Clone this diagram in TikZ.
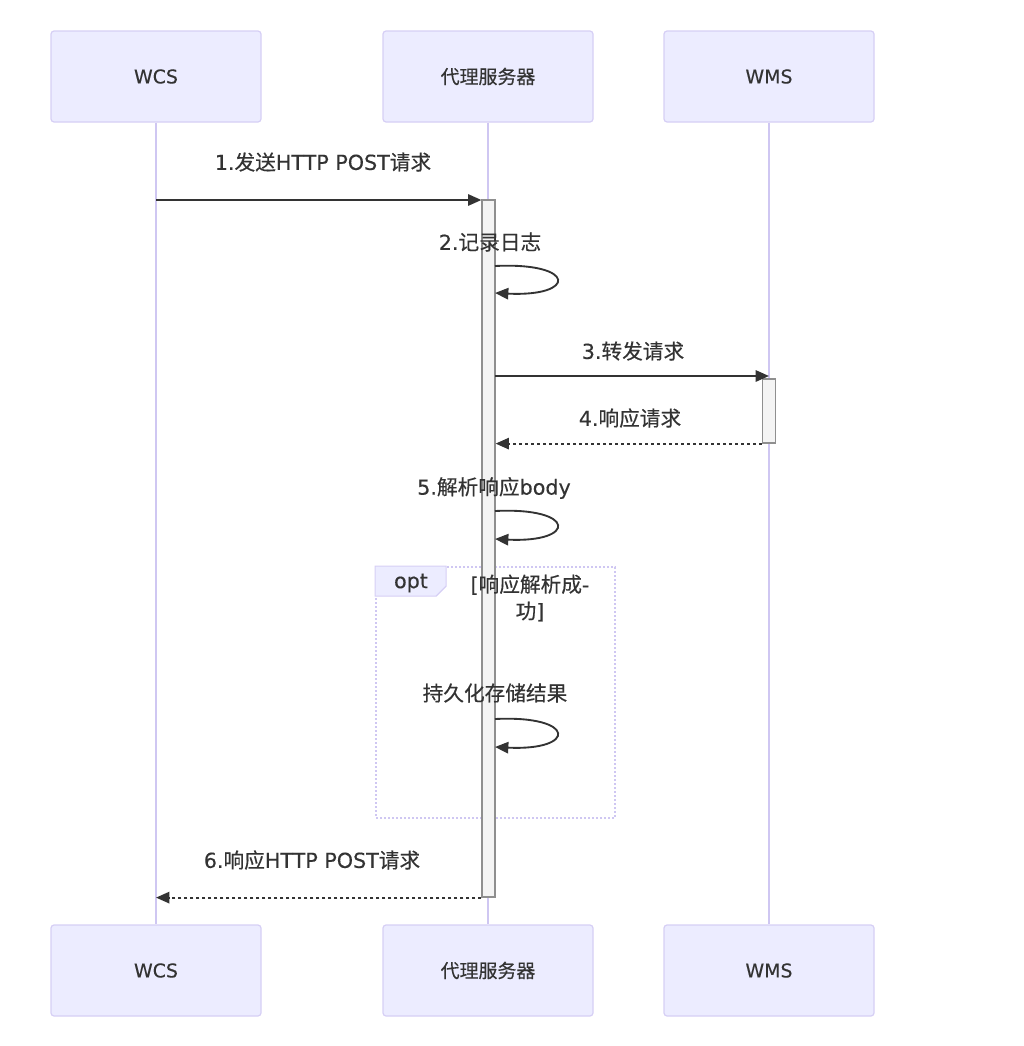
\documentclass[tikz,border=0pt]{standalone}
\usepackage{fontspec}
\setmainfont{DejaVu Sans}[FakeBold=0.35]
\newfontfamily\cjk{Noto Sans CJK SC}[FakeBold=0.35]
\usetikzlibrary{arrows.meta}
\definecolor{boxfill}{HTML}{ECECFF}
\definecolor{boxline}{HTML}{D6CFF5}
\definecolor{lifec}{HTML}{CFC7F2}
\definecolor{actfill}{HTML}{F4F4F4}
\definecolor{actline}{HTML}{8F8F8F}
\definecolor{arrowc}{HTML}{333333}
\definecolor{txt}{HTML}{333333}
\tikzset{
  actor/.style={draw=boxline, fill=boxfill, rounded corners=2.25pt, minimum width=157.5pt, minimum height=68.25pt, text=txt, line width=0.9pt, inner sep=0pt, font=\fontsize{14.2}{17}\selectfont},
  life/.style={draw=lifec, line width=1pt},
  act/.style={draw=actline, fill=actfill, minimum width=9.75pt, inner sep=0pt, line width=0.9pt},
  msg/.style={draw=arrowc, line width=1.4pt, -{Triangle[length=10pt,width=8.5pt]}},
  ret/.style={msg, dash pattern=on 2.5pt off 2pt},
  lbl/.style={text=txt, inner sep=0pt},
  optframe/.style={draw=lifec, line width=1.3pt, dash pattern=on 1.5pt off 1.5pt, minimum width=179.25pt, minimum height=188.25pt, inner sep=0pt},
  opttab/.style={draw=boxline, fill=boxfill, line width=0.9pt},
}
\begin{document}
\begin{tikzpicture}[x=0.75pt,y=-0.75pt, font=\fontsize{15.5}{18}\selectfont]
\useasboundingbox (0,0) rectangle (1024,1046);
% actors
\node[actor] (wcsT) at (156,76.5) {WCS};
\node[actor] (proxyT) at (488,76.5) {\cjk 代理服务器};
\node[actor] (wmsT) at (769,76.5) {WMS};
\node[actor] (wcsB) at (156,970.5) {WCS};
\node[actor] (proxyB) at (488,970.5) {\cjk 代理服务器};
\node[actor] (wmsB) at (769,970.5) {WMS};
% lifelines
\draw[life] (wcsT.south) -- (wcsB.north);
\draw[life] (proxyT.south) -- (proxyB.north);
\draw[life] (wmsT.south) -- (wmsB.north);
% opt frame
\node[optframe] (opt) at (495.5,692.5) {};
\draw[opttab] (opt.north west) -- ++(71,0) -- ++(0,20) -- ++(-10,10) -- ++(-61,0) -- cycle;
% activations
\node[act, minimum height=522.75pt] (actP) at (488.5,548.5) {};
\node[act, minimum height=48pt] (actW) at (769,411) {};
% opt labels
\node[lbl] (optlbl) at (411,583) {opt};
\node[lbl, align=center] (cond) at (530,598) {[{\cjk 响应解析成}-\\[2pt]{\cjk 功}]};
% 1
\node[lbl] (l1) at (323,162) {1.{\cjk 发送}HTTP POST{\cjk 请求}};
\coordinate (m1s) at (156,200);
\draw[msg] (m1s) -- (m1s -| actP.west);
% 2
\node[lbl] (l2) at (490,242) {2.{\cjk 记录日志}};
\coordinate (s2a) at (495,266);
\coordinate (s2b) at (495,293);
\draw[msg] (s2a) .. controls (577,262) and (577,297) .. (s2b);
% 3
\node[lbl] (l3) at (633,351) {3.{\cjk 转发请求}};
\coordinate (m3s) at (495,376);
\draw[msg] (m3s) -- (m3s -| actW);
% 4
\node[lbl] (l4) at (630,418) {4.{\cjk 响应请求}};
\draw[ret] (actW.south west) -- (actW.south west -| actP.east);
% 5
\node[lbl] (l5) at (494,488) {5.{\cjk 解析响应}body};
\coordinate (s5a) at (495,511);
\coordinate (s5b) at (495,539);
\draw[msg] (s5a) .. controls (577,507) and (577,543) .. (s5b);
% persist
\node[lbl] (lp) at (495,693) {\cjk 持久化存储结果};
\coordinate (spa) at (495,719);
\coordinate (spb) at (495,747);
\draw[msg] (spa) .. controls (577,715) and (577,751) .. (spb);
% 6
\node[lbl] (l6) at (312,860) {6.{\cjk 响应}HTTP POST{\cjk 请求}};
\draw[ret] (actP.south west) -- (actP.south west -| wcsB);
\end{tikzpicture}
\end{document}
